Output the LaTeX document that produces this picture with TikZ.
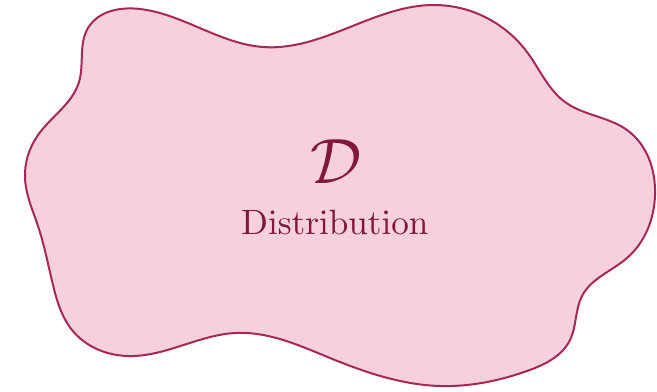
\documentclass[tikz,border=0pt]{standalone}
\usepackage{xcolor}
\usetikzlibrary{hobby}
\definecolor{blobfill}{RGB}{247,208,222}
\definecolor{blobline}{RGB}{168,38,88}
\definecolor{blobtext}{RGB}{128,24,62}
\font\namefont=cmr10 at 17.6pt
\font\symfont=cmsy10 at 32pt
\begin{document}
\begin{tikzpicture}[x=0.5pt, y=-0.5pt]
            \useasboundingbox[fill=white] (0,0) rectangle (657,391);

            \filldraw[fill=blobfill, draw=blobline, line width=1pt, use Hobby shortcut, closed=true]
                (140,9) .. (263,47) .. (434,5) .. (527,52) .. (565,102) .. (627,130)
                .. (655,195) .. (627,258) .. (582,296) .. (570,340) .. (527,371)
                .. (440,386) .. (330,358) .. (235,333) .. (127,356) .. (72,330)
                .. (53,285) .. (38,226) .. (25,178) .. (38,135) .. (79,82) .. (88,28);

            \node[blobtext, anchor=base, inner sep=0pt] (sym) at (335,183) {\symfont D};
            \node[blobtext, anchor=base, inner sep=0pt] (name) at (335,234) {\namefont Distribution};
        \end{tikzpicture}
\end{document}
